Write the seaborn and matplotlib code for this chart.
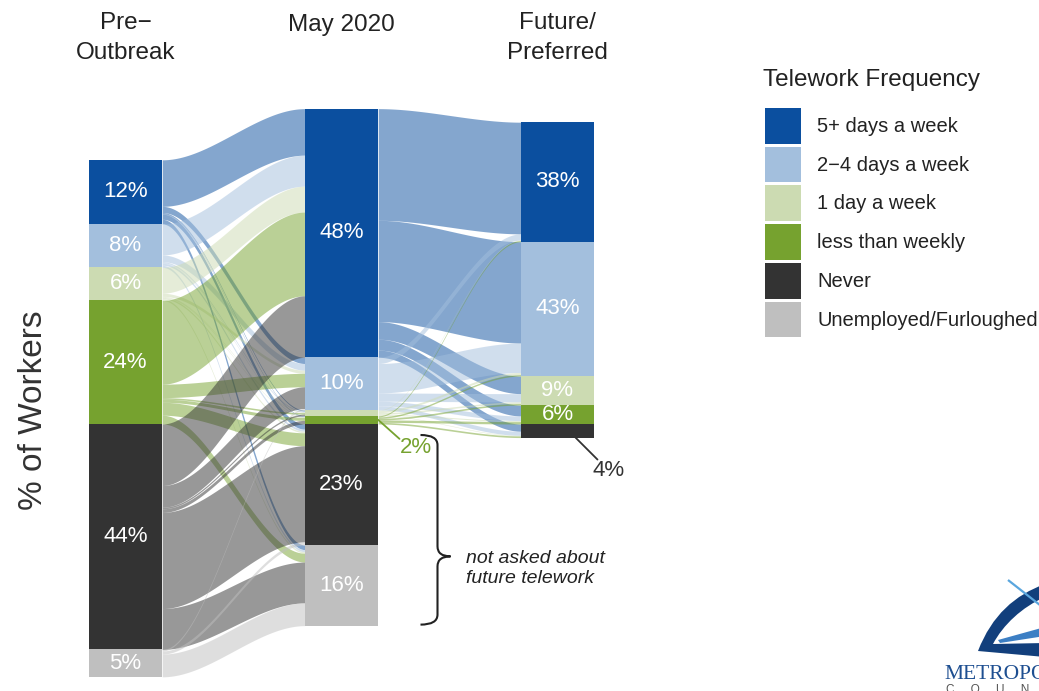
import numpy as np
import matplotlib
matplotlib.use("Agg")
import matplotlib.pyplot as plt
from matplotlib import transforms
from matplotlib.patches import Patch, PathPatch
from matplotlib.path import Path
import seaborn as sns

# ---- data -------------------------------------------------------------
categories = ["5+ days a week", "2\u22124 days a week", "1 day a week",
              "less than weekly", "Never", "Unemployed/Furloughed"]
stages = ["Pre\u2212\nOutbreak", "May 2020", "Future/\nPreferred"]

# % of all workers in each category
pre_share = [12.4, 8.4, 6.4, 23.9, 43.6, 5.3]
may_share = [48.1, 10.2, 1.1, 1.6, 23.4, 15.6]
# % of workers asked about future telework (teleworking in May)
future_share = [37.9, 42.6, 9.2, 6.0, 4.3]

# transitions, rows = from, columns = to (% of all workers)
pre_to_may = [
    [9.0, 1.2, 0.2, 0.1, 1.0, 0.9],
    [6.0, 1.3, 0.2, 0.1, 0.4, 0.4],
    [5.0, 0.6, 0.1, 0.1, 0.3, 0.3],
    [16.2, 2.6, 0.3, 0.6, 2.5, 1.7],
    [11.9, 4.2, 0.3, 0.7, 18.6, 7.9],
    [0.0, 0.3, 0.0, 0.0, 0.6, 4.4],
]
may_to_future = [
    [21.6, 19.6, 3.4, 2.1, 1.4],
    [1.2, 5.7, 1.6, 0.9, 0.8],
    [0.1, 0.4, 0.3, 0.2, 0.1],
    [0.22, 0.29, 0.31, 0.46, 0.32],
]

palette = sns.color_palette(["#0B4F9F", "#A3BFDD", "#CCDBB2",
                             "#76A22F", "#333333", "#BFBFBF"])

# ---- style ------------------------------------------------------------
sns.set_theme(style="white")
plt.rcParams["font.family"] = ["Liberation Sans", "DejaVu Sans"]
TEXT = "#222222"

fig = plt.figure(figsize=(10.39, 6.91), dpi=100)
ax = fig.add_axes([0, 0, 1, 1])
PX_X, PX_Y = 216.0, 5.17          # pixels per x unit / per percentage point
ax.set_xlim(-125.5 / PX_X, (1039 - 125.5) / PX_X)
ax.set_ylim(-(691 - 424) / PX_Y, 424 / PX_Y)
ax.axis("off")

BAR_W = 0.34
N_ABOVE = 4   # teleworking categories stack above zero, the rest below


def stack(values):
    values = np.asarray(values, float)
    top = values[:N_ABOVE].sum()
    tops = top - np.concatenate([[0.0], np.cumsum(values)[:-1]])
    return tops, tops - values


def draw_flows(x_left, x_right, matrix, src_tops, src_vals, dst_tops, dst_vals, colors):
    m = np.asarray(matrix, float)
    left = m * (np.asarray(src_vals) / m.sum(axis=1))[:, None]
    right = m * (np.asarray(dst_vals) / m.sum(axis=0))[None, :]
    l_top = src_tops[:, None] - np.concatenate(
        [np.zeros((m.shape[0], 1)), np.cumsum(left, axis=1)[:, :-1]], axis=1)
    r_top = dst_tops[None, :] - np.concatenate(
        [np.zeros((1, m.shape[1])), np.cumsum(right, axis=0)[:-1, :]], axis=0)
    t = np.linspace(0, 1, 80)
    s = t * t * (3 - 2 * t)
    xs = x_left + (x_right - x_left) * t
    for i in range(m.shape[0]):
        for j in range(m.shape[1]):
            if m[i, j] <= 0:
                continue
            lt, lb = l_top[i, j], l_top[i, j] - left[i, j]
            rt, rb = r_top[i, j], r_top[i, j] - right[i, j]
            ax.fill_between(xs, lb + (rb - lb) * s, lt + (rt - lt) * s,
                            color=colors[i], alpha=0.5, lw=0)


pre_tops, pre_bots = stack(pre_share)
may_tops, may_bots = stack(may_share)
asked = sum(may_share[:N_ABOVE])
future_vals = np.asarray(future_share) * asked / 100.0
fut_tops, fut_bots = stack(future_vals)

# ribbons
draw_flows(0 + BAR_W / 2, 1 - BAR_W / 2, pre_to_may,
           pre_tops, pre_share, may_tops, may_share, palette)
draw_flows(1 + BAR_W / 2, 2 - BAR_W / 2, may_to_future,
           may_tops[:N_ABOVE], may_share[:N_ABOVE], fut_tops, future_vals, palette)

# strata
for x, vals, bots in [(0, pre_share, pre_bots), (1, may_share, may_bots),
                      (2, future_vals, fut_bots)]:
    ax.bar([x] * len(vals), vals, bottom=bots, width=BAR_W,
           color=palette[:len(vals)], edgecolor="none", zorder=3)

lab_kw = dict(ha="center", va="center", color="white", fontsize=16, zorder=4)
for v, tp, bt in zip(pre_share, pre_tops, pre_bots):
    ax.text(0, (tp + bt) / 2, f"{round(v)}%", **lab_kw)
for v, tp, bt in zip(may_share, may_tops, may_bots):
    if v >= 5:
        ax.text(1, (tp + bt) / 2, f"{round(v)}%", **lab_kw)
for k, (v, tp, bt) in enumerate(zip(future_share, fut_tops, fut_bots)):
    if k < N_ABOVE:
        ax.text(2, (tp + bt) / 2, f"{round(v)}%", **lab_kw)

# call-outs for the thin strata
lw_mid = (may_tops[3] + may_bots[3]) / 2
ax.plot([1 + BAR_W / 2, 1 + 58 / PX_X], [lw_mid, lw_mid - 19 / PX_Y],
        color=palette[3], lw=1.3, zorder=4)
ax.text(1 + 74 / PX_X, lw_mid - 28 / PX_Y, f"{round(may_share[3])}%",
        color=palette[3], fontsize=16, ha="center", va="center")
ax.plot([2 + 18 / PX_X, 2 + 40 / PX_X], [fut_bots[4], fut_bots[4] - 22 / PX_Y],
        color="#333333", lw=1.3, zorder=4)
ax.text(2 + 51 / PX_X, fut_bots[4] - 33 / PX_Y, f"{round(future_share[4])}%",
        color="#333333", fontsize=16, ha="center", va="center")

# brace marking the groups that were not asked
bx = 1 + 96 / PX_X
y_top = may_tops[4] - 11 / PX_Y
y_bot = may_bots[5] + 1 / PX_Y
y_mid = y_top - (y_top - y_bot) * 0.64
hook, tip, r = 17 / PX_X, 13 / PX_X, 10 / PX_Y
verts = [(bx - hook, y_top), (bx, y_top), (bx, y_top - r),
         (bx, y_mid + r), (bx, y_mid), (bx + tip, y_mid),
         (bx, y_mid), (bx, y_mid - r),
         (bx, y_bot + r), (bx, y_bot), (bx - hook, y_bot)]
codes = [Path.MOVETO, Path.CURVE3, Path.CURVE3,
         Path.LINETO, Path.CURVE3, Path.CURVE3,
         Path.CURVE3, Path.CURVE3,
         Path.LINETO, Path.CURVE3, Path.CURVE3]
ax.add_patch(PathPatch(Path(verts, codes), fill=False, ec=TEXT, lw=1.5))
ax.text(1 + 124 / PX_X, y_mid - 2.4, "not asked about\nfuture telework",
        style="italic", fontsize=14, color=TEXT, ha="left", va="center",
        linespacing=1.2)

# column titles and axis title
title_y = [(424 - 38) / PX_Y, (424 - 25) / PX_Y, (424 - 38) / PX_Y]
for x, (name, ty) in enumerate(zip(stages, title_y)):
    ax.text(x, ty, name, ha="center", va="center", fontsize=17.5,
            color=TEXT, linespacing=1.45)
ax.text(-92 / PX_X, (424 - 410) / PX_Y, "% of Workers", rotation=90,
        ha="center", va="center", fontsize=24, color="#333333")

# legend
fig.text(763 / 1039, 1 - 80 / 691, "Telework Frequency", fontsize=17.5,
         color=TEXT, ha="left", va="center")
handles = [Patch(facecolor=c, edgecolor="none") for c in palette]
leg = fig.legend(handles, categories, loc="upper left",
                 bbox_to_anchor=(765 / 1039, 1 - 108 / 691), frameon=False,
                 fontsize=14.5, handlelength=1.8, handleheight=2.35,
                 labelspacing=0.15, handletextpad=0.8, borderpad=0,
                 borderaxespad=0)
for t in leg.get_texts():
    t.set_color(TEXT)

# organisation mark, bottom right (drawn in pixel units from the top-left)
px_tr = transforms.Affine2D().scale(1 / 1039, -1 / 691).translate(0, 1) + fig.transFigure
crescent = Path([(978, 651), (992, 615), (1015, 595), (1045, 584),
                 (1045, 597),
                 (1022, 607), (1003, 625), (993, 644),
                 (1045, 643), (1045, 657), (978, 651)],
                [Path.MOVETO, Path.CURVE4, Path.CURVE4, Path.CURVE4,
                 Path.LINETO,
                 Path.CURVE4, Path.CURVE4, Path.CURVE4,
                 Path.LINETO, Path.LINETO, Path.CLOSEPOLY])
fig.patches.append(PathPatch(crescent, fc="#123F7C", ec="none", transform=px_tr))
wedge = Path([(998, 640), (1045, 627), (1045, 636), (1000, 643), (998, 640)],
             [Path.MOVETO, Path.LINETO, Path.LINETO, Path.LINETO, Path.CLOSEPOLY])
fig.patches.append(PathPatch(wedge, fc="#3C7FC4", ec="none", transform=px_tr))
fig.patches.append(PathPatch(Path([(1008, 580), (1045, 609)]), fc="none",
                             ec="#5AA6DE", lw=1.6, transform=px_tr))
fig.text(944 / 1039, 1 - 679 / 691, "METROPOLITAN", family="Liberation Serif",
         fontsize=15.5, color="#1E4F91", ha="left", va="baseline")
fig.text(946 / 1039, 1 - 693 / 691, "C     O     U     N     C     I     L",
         fontsize=8.5, color="#555555", ha="left", va="baseline")

fig.savefig("out.png", dpi=100, facecolor="white")
